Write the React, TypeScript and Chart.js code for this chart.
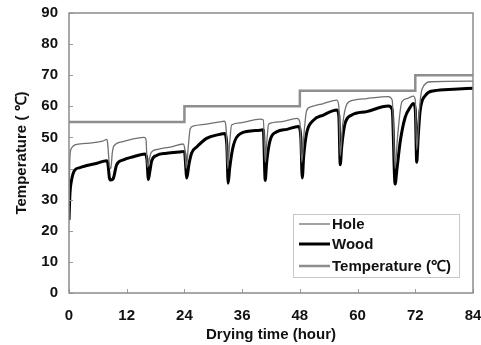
import React, { useEffect, useRef } from "react";
import { Chart, registerables } from "chart.js";

Chart.register(...registerables);

const woodHours = [0, 0.2, 0.5, 1.2, 2.3, 3.7, 5.8, 7.8, 8.1, 8.4, 8.7, 9.2, 9.9, 11.3, 13.4, 15.8, 16.2, 16.5, 16.8, 17.2, 18.2, 20.3, 23.4, 24.0, 24.5, 24.9, 25.5, 26.6, 28.6, 31.4, 32.3, 32.8, 33.1, 33.4, 34.2, 35.6, 39.7, 40.4, 40.8, 41.1, 41.8, 43.2, 45.3, 47.7, 48.2, 48.5, 48.8, 49.4, 50.8, 52.9, 55.7, 56.1, 56.4, 56.7, 57.4, 58.8, 61.9, 66.4, 67.2, 67.8, 68.2, 68.9, 69.9, 70.9, 71.6, 72.0, 72.3, 72.6, 73.0, 74.1, 75.9, 80, 84];
const woodTemps = [23.5, 32, 36, 39.5, 40.3, 41, 41.7, 42.5, 41.5, 37, 36.3, 36.8, 41.2, 42.8, 43.8, 44.7, 43, 36.5, 39, 42.5, 44.2, 44.9, 45.4, 45.5, 37, 41, 45, 47, 49.7, 51, 51.3, 48, 35.3, 40, 47.5, 51.2, 52.3, 52.5, 36.2, 42, 49, 51.8, 52.6, 53.5, 50, 37, 44, 51.3, 55.5, 57.2, 58.8, 57, 41.2, 47, 54.5, 57.2, 58.3, 60.1, 59, 35, 40, 49, 56.5, 59.6, 60.9, 59, 42, 50, 58.5, 63.5, 65, 65.5, 65.8];

const holeHours = [0, 0.2, 0.5, 1.2, 3.5, 7.0, 7.9, 8.1, 8.4, 8.7, 9.0, 9.3, 11.0, 15.6, 16.0, 16.3, 16.7, 17.1, 18.5, 21.3, 23.7, 24.1, 24.4, 24.8, 25.2, 25.9, 28.6, 31.4, 32.3, 32.7, 33.0, 33.4, 33.8, 35.6, 39.7, 40.4, 40.8, 41.2, 41.5, 43.9, 47.4, 48.0, 48.4, 48.9, 49.4, 50.4, 52.9, 55.7, 56.1, 56.4, 56.9, 57.8, 59.2, 61.9, 66.4, 67.2, 67.8, 68.3, 69.2, 70.3, 71.6, 72.0, 72.3, 72.8, 73.4, 75.3, 84];
const holeTemps = [30, 44, 46.5, 47.6, 48.1, 48.8, 49.4, 47, 41, 40, 45, 47.2, 48.6, 50, 49.5, 40.5, 43, 45.2, 46.2, 47, 47.9, 46, 40, 47, 52.8, 53.7, 54.3, 55, 55.2, 52, 40, 48, 54, 54.7, 55.9, 55.6, 42, 50, 54.3, 55, 56.1, 55, 42, 52, 58.6, 59.9, 60.9, 62, 60, 44, 54, 60.8, 62, 62.5, 63.1, 62, 40, 50, 61.4, 62.5, 63.3, 62, 46, 58, 65.5, 67.9, 68.1];

const setHours = [0, 24, 24, 48, 48, 72, 72, 84];
const setTemps = [55, 55, 60, 60, 65, 65, 70, 70];

const xTicks = [0, 12, 24, 36, 48, 60, 72, 84];
const yTicks = [0, 10, 20, 30, 40, 50, 60, 70, 80, 90];

const seriesNames = ["Hole", "Wood", "Temperature (\u2103)"];
const xTitle = "Drying time (hour)";
const yTitle = "Temperature ( \u2103)";

const FONT = "'Liberation Sans', Arial, sans-serif";

const toPts = (xs: number[], ys: number[]) => xs.map((x, i) => ({ x, y: ys[i] }));

const framePlugin = {
  id: "frameAndLegend",
  afterDraw(chart: any) {
    const { ctx, chartArea } = chart;
    const xs = chart.scales.x;
    const ys = chart.scales.y;
    ctx.save();
    ctx.strokeStyle = "#9a9a9a";
    ctx.lineWidth = 1;
    ctx.beginPath();
    xTicks.forEach((t) => {
      const px = Math.round(xs.getPixelForValue(t)) + 0.5;
      ctx.moveTo(px, chartArea.bottom);
      ctx.lineTo(px, chartArea.bottom - 4);
    });
    yTicks.forEach((t) => {
      const py = Math.round(ys.getPixelForValue(t)) + 0.5;
      ctx.moveTo(chartArea.left, py);
      ctx.lineTo(chartArea.left + 4, py);
    });
    ctx.stroke();
    ctx.strokeStyle = "#8c8c8c";
    ctx.lineWidth = 1.5;
    ctx.strokeRect(chartArea.left, chartArea.top, chartArea.right - chartArea.left, chartArea.bottom - chartArea.top);

    const bw = 166;
    const bh = 63;
    const bx = chartArea.right - 14 - bw;
    const by = chartArea.bottom - 16 - bh;
    ctx.fillStyle = "#ffffff";
    ctx.fillRect(bx, by, bw, bh);
    ctx.strokeStyle = "#c8c8c8";
    ctx.lineWidth = 1;
    ctx.strokeRect(bx + 0.5, by + 0.5, bw, bh);
    const rows = [10, 30, 52];
    chart.data.datasets.forEach((ds: any, i: number) => {
      const y = by + rows[i];
      ctx.strokeStyle = ds.borderColor;
      ctx.lineWidth = ds.borderWidth;
      ctx.beginPath();
      ctx.moveTo(bx + 6, y);
      ctx.lineTo(bx + 37, y);
      ctx.stroke();
      ctx.fillStyle = "#111";
      ctx.font = "bold 15px " + FONT;
      ctx.textBaseline = "middle";
      ctx.textAlign = "left";
      ctx.fillText(ds.label, bx + 39, y + 1);
    });
    ctx.restore();
  },
};

export default function App() {
  const ref = useRef<HTMLCanvasElement>(null);
  useEffect(() => {
    document.body.style.margin = "0";
    const chart = new Chart(ref.current!, {
      type: "line",
      data: {
        datasets: [
          {
            label: seriesNames[0],
            data: toPts(holeHours, holeTemps),
            borderColor: "#707070",
            borderWidth: 1.3,
            pointRadius: 0,
            cubicInterpolationMode: "monotone",
          },
          {
            label: seriesNames[1],
            data: toPts(woodHours, woodTemps),
            borderColor: "#000000",
            borderWidth: 3,
            pointRadius: 0,
            cubicInterpolationMode: "monotone",
          },
          {
            label: seriesNames[2],
            data: toPts(setHours, setTemps),
            borderColor: "#8e8e8e",
            borderWidth: 2.5,
            pointRadius: 0,
            tension: 0,
          },
        ],
      },
      options: {
        animation: false,
        responsive: false,
        maintainAspectRatio: false,
        layout: { padding: { top: 13, right: 8, left: 0, bottom: 0 } },
        plugins: { legend: { display: false }, tooltip: { enabled: false } },
        scales: {
          x: {
            type: "linear",
            min: 0,
            max: 84,
            afterBuildTicks: (s: any) => {
              s.ticks = xTicks.map((v) => ({ value: v }));
            },
            afterFit: (s: any) => {
              s.height = 52;
              s.paddingLeft = 0;
              s.paddingRight = 0;
            },
            grid: { display: false, drawTicks: false },
            border: { display: false },
            ticks: {
              color: "#111",
              padding: 14,
              font: { family: FONT, size: 15, weight: "bold" },
              maxRotation: 0,
            },
            title: {
              display: true,
              text: xTitle,
              color: "#111",
              font: { family: FONT, size: 15, weight: "bold" },
              padding: { top: 0, bottom: 1 },
            },
          },
          y: {
            type: "linear",
            min: 0,
            max: 90,
            afterBuildTicks: (s: any) => {
              s.ticks = yTicks.map((v) => ({ value: v }));
            },
            afterFit: (s: any) => {
              s.width = 69;
              s.paddingTop = 0;
              s.paddingBottom = 0;
            },
            grid: { display: false, drawTicks: false },
            border: { display: false },
            ticks: {
              color: "#111",
              padding: 11,
              font: { family: FONT, size: 15, weight: "bold" },
            },
            title: {
              display: true,
              text: yTitle,
              color: "#111",
              font: { family: FONT, size: 15, weight: "bold" },
              padding: { top: 13, bottom: 0 },
            },
          },
        },
      } as any,
      plugins: [framePlugin],
    });
    return () => chart.destroy();
  }, []);
  return (
    <div style={{ width: 481, height: 345 }}>
      <canvas ref={ref} width={481} height={345} style={{ display: "block", width: 481, height: 345 }} />
    </div>
  );
}
